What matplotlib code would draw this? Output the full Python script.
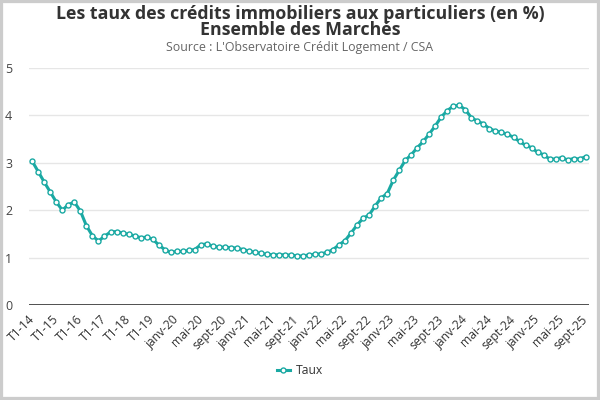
import matplotlib
matplotlib.use("Agg")
import matplotlib.pyplot as plt
from matplotlib.patches import Rectangle

plt.rcParams['font.family'] = ['Open Sans', 'DejaVu Sans']

# periods: quarterly 2014-2019, then monthly from janv-20 to sept-25
mois = ['janv', 'févr', 'mars', 'avr', 'mai', 'juin',
        'juil', 'août', 'sept', 'oct', 'nov', 'déc']
periodes = [f"T{q}-{y}" for y in range(14, 20) for q in range(1, 5)]
periodes += [f"{m}-{y}" for y in range(20, 26) for m in mois]
periodes = periodes[:24 + 69]

taux = [3.03, 2.81, 2.59, 2.38, 2.17, 2.00, 2.12, 2.17, 1.98, 1.67,
        1.46, 1.35, 1.45, 1.54, 1.55, 1.52, 1.49, 1.46, 1.42, 1.43,
        1.39, 1.27, 1.17, 1.11,
        1.13, 1.13, 1.15, 1.17, 1.27, 1.29, 1.24, 1.22, 1.22, 1.21,
        1.20, 1.17, 1.14, 1.11, 1.09, 1.07, 1.06, 1.06, 1.06, 1.05,
        1.04, 1.03, 1.06, 1.07, 1.08, 1.11, 1.17, 1.27, 1.36, 1.52,
        1.69, 1.83, 1.90, 2.09, 2.26, 2.35, 2.63, 2.84, 3.05, 3.17,
        3.32, 3.45, 3.61, 3.78, 3.97, 4.10, 4.20, 4.21, 4.12, 3.95,
        3.88, 3.82, 3.72, 3.67, 3.64, 3.60, 3.54, 3.45, 3.37, 3.32,
        3.22, 3.17, 3.08, 3.08, 3.11, 3.06, 3.09, 3.08, 3.13]

couleur = '#1aa9a3'

fig = plt.figure(figsize=(6, 4), dpi=100)
ax = fig.add_axes([29 / 600, 95 / 400, 560 / 600, 237 / 400])

x = list(range(len(taux)))
ax.plot(x, taux, color=couleur, linewidth=2.2, marker='o', markersize=3.6,
        markerfacecolor='white', markeredgecolor=couleur, markeredgewidth=1.0,
        label='Taux')

ax.set_ylim(0, 5)
ax.set_xlim(-0.55, len(taux) - 0.45)
ax.set_yticks([0, 1, 2, 3, 4, 5])
ax.grid(axis='y', color='#e6e6e6', linewidth=1)
ax.set_axisbelow(True)
ax.axhline(0, color='#333333', linewidth=1.2)

ax.set_xticks(x[::4])
ax.set_xticklabels(periodes[::4], rotation=45, ha='right',
                   rotation_mode='anchor', va='center')
ax.tick_params(axis='x', length=0, pad=9, labelsize=8.7, labelcolor='#333333')
ax.tick_params(axis='y', length=0, pad=12, labelsize=9, labelcolor='#444444')
for s in ax.spines.values():
    s.set_visible(False)

fig.text(0.5, 1 - 22 / 400,
         "Les taux des crédits immobiliers aux particuliers (en %)\nEnsemble des Marchés",
         ha='center', va='center', fontsize=12.8, fontweight='bold',
         color='#333333', linespacing=0.8)
fig.text(0.5, 1 - 47 / 400, "Source : L'Observatoire Crédit Logement / CSA",
         ha='center', va='center', fontsize=8.9, color='#666666')

fig.legend(loc='center', bbox_to_anchor=(0.5, 1 - 371 / 400), frameon=False,
           fontsize=8.7, handlelength=1.1, handletextpad=0.5,
           labelcolor='#333333')

fig.patches.append(Rectangle((0, 0), 1, 1, transform=fig.transFigure,
                             fill=False, edgecolor='#cccccc', linewidth=4.5))

fig.savefig('out.png', dpi=100)
